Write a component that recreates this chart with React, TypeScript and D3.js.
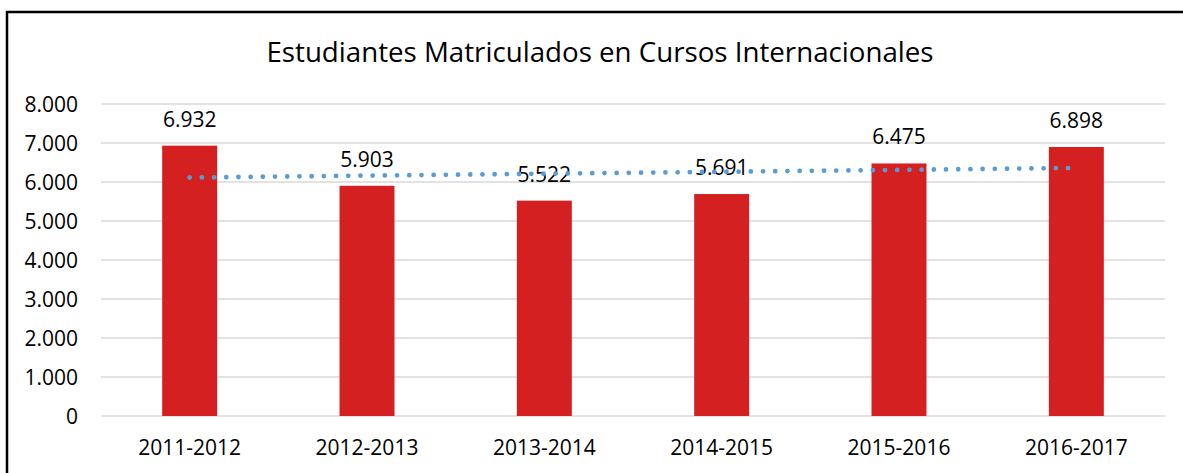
import React from "react";
import * as d3 from "d3";

const categories = ["2011-2012", "2012-2013", "2013-2014", "2014-2015", "2015-2016", "2016-2017"];
const values = [6932, 5903, 5522, 5691, 6475, 6898];
const yTicks = [0, 1000, 2000, 3000, 4000, 5000, 6000, 7000, 8000];
const title = "Estudiantes Matriculados en Cursos Internacionales";

const W = 1183;
const H = 473;
const FONT = "'Open Sans', sans-serif";

export default function App() {
  const left = 101, right = 1165, top = 104, bottom = 416;
  const x = d3.scaleBand<string>().domain(categories).range([left, right]).paddingInner(0.69).paddingOuter(0.345);
  const y = d3.scaleLinear().domain([0, 8000]).range([bottom, top]);
  const fmt = (v: number) => d3.format(",")(v).replace(/,/g, ".");

  // linear trendline (least squares over index 1..n)
  const n = values.length;
  const xs = values.map((_, i) => i + 1);
  const mx = d3.mean(xs)!;
  const my = d3.mean(values)!;
  const sxy = d3.sum(xs.map((xi, i) => (xi - mx) * (values[i] - my)));
  const sxx = d3.sum(xs.map((xi) => (xi - mx) ** 2));
  const slope = sxy / sxx;
  const icpt = my - slope * mx;
  const trend = xs.map((xi, i) => ({ cx: x(categories[i])! + x.bandwidth() / 2, v: icpt + slope * xi }));
  const line = d3.line<{ cx: number; v: number }>().x((d) => d.cx).y((d) => y(d.v));
  const trendPts = [trend[0], trend[n - 1]];

  return (
    <svg width={W} height={H} style={{ position: "absolute", left: 0, top: 0, background: "#fff" }}>
      <rect x={0} y={0} width={W} height={H} fill="#fff" />
      <rect x={7} y={12} width={W + 20} height={H + 20} fill="#fff" stroke="#000" strokeWidth={2.5} />
      <text x={600} y={62} textAnchor="middle" fontFamily={FONT} fontSize={27.7} fill="#000">
        {title}
      </text>
      {yTicks.map((t) => (
        <g key={t}>
          <line x1={left} x2={right} y1={y(t)} y2={y(t)} stroke="#d9d9d9" strokeWidth={1.5} />
          <text x={78} y={y(t)} dy="0.36em" textAnchor="end" fontFamily={FONT} fontSize={21} fill="#000">
            {fmt(t)}
          </text>
        </g>
      ))}
      {categories.map((c, i) => (
        <g key={c}>
          <rect x={x(c)!} y={y(values[i])} width={x.bandwidth()} height={bottom - y(values[i])} fill="#d42020" />
          <text x={x(c)! + x.bandwidth() / 2} y={y(values[i]) - 19} textAnchor="middle" fontFamily={FONT} fontSize={21} fill="#000">
            {fmt(values[i])}
          </text>
          <text x={x(c)! + x.bandwidth() / 2} y={455} textAnchor="middle" fontFamily={FONT} fontSize={21} fill="#000">
            {c}
          </text>
        </g>
      ))}
      <path d={line(trendPts)!} fill="none" stroke="#5b9bd5" strokeWidth={4.8} strokeLinecap="round" strokeDasharray="0 12.2" />
    </svg>
  );
}
